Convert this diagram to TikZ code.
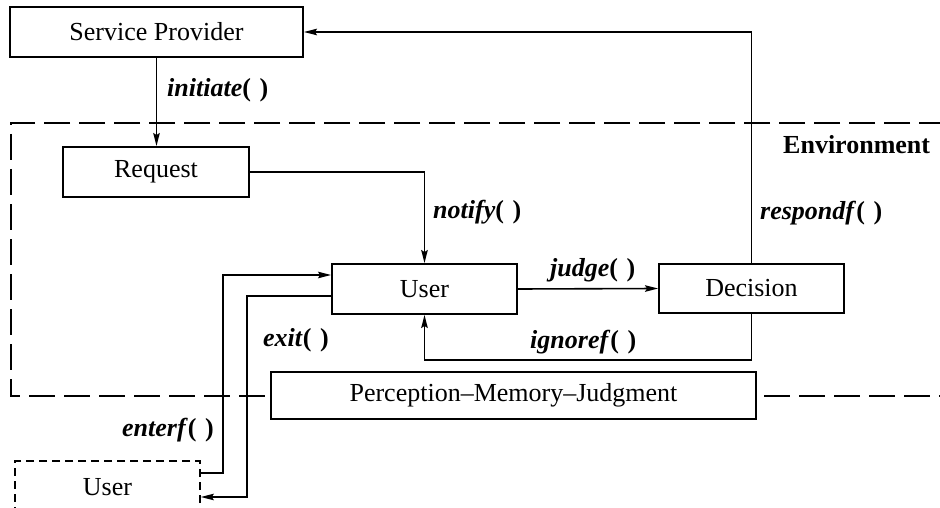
\documentclass[tikz,border=0pt]{standalone}
\usepackage{fontspec}
\setmainfont{Liberation Serif}
\usetikzlibrary{arrows.meta,calc}
\begin{document}
\begin{tikzpicture}[x=1pt,y=-1pt,
  font=\fontsize{26}{31}\selectfont,
  box/.style={draw,line width=1.9pt,fill=white,inner sep=0pt},
  dashbox/.style={draw,line width=1.6pt,dash pattern=on 8pt off 5pt,inner sep=0pt},
  envline/.style={line width=1.4pt,dash pattern=on 26pt off 9pt},
  arr/.style={line width=1.6pt,-{Stealth[length=13pt,width=6.5pt,inset=2pt]}},
  lbl/.style={anchor=west,inner sep=0pt,font=\fontsize{26}{30}\selectfont\bfseries}]
\useasboundingbox (0,0) rectangle (940,508);
\fill[white] (0,0) rectangle (940,508);

% environment frame (open on the right)
\draw[envline] (945,123) -- (11,123) -- (11,396) -- (945,396);

% boxes
\node[box,minimum width=293pt,minimum height=50pt] (SP) at (156.5,32) {Service Provider};
\node[box,minimum width=186pt,minimum height=50pt] (Req) at (156,172) {Request};
\node[box,minimum width=185pt,minimum height=50pt] (User) at (424.5,289) {User};
\node[box,minimum width=185pt,minimum height=49pt] (Dec) at (751.5,288.5) {Decision};
\node[box,minimum width=485pt,minimum height=47pt] (PMJ) at (513.5,395.5) {Perception--Memory--Judgment};
\node[dashbox,minimum width=185pt,minimum height=52pt] (DU) at (107.5,487) {User};

% connectors
\draw[arr] (SP.south) -- (SP.south |- Req.north);
\draw[arr] (Req.east) -| (User.north);
\draw[arr] (User.east) -- (Dec.west);
\draw[arr] (Dec.north) |- (SP.east);
\draw[arr] (Dec.south) -- ++(0,46) -| (User.south);
\draw[arr] ([yshift=14pt]DU.east) -- ++(22,0) |- ([yshift=14pt]User.west);
\draw[arr] ([yshift=-7pt]User.west) -- ++(-84,0) |- ([yshift=-10pt]DU.east);

% labels
\node[lbl] (lInit) at (167,90) {\textit{initiate}(\,\,)};
\node[lbl] (lNotify) at (433,212) {\textit{notify}(\,\,)};
\node[lbl] (lJudge) at (550,270) {\textit{judge}(\,\,)};
\node[lbl] (lResp) at (760,213) {\textit{respondf}(\,\,)};
\node[lbl] (lIgn) at (530,342) {\textit{ignoref}(\,\,)};
\node[lbl] (lExit) at (263,340) {\textit{exit}(\,\,)};
\node[lbl] (lEnter) at (122,430) {\textit{enterf}(\,\,)};
\node[lbl] (lEnv) at (783,145) {Environment};
\end{tikzpicture}
\end{document}
